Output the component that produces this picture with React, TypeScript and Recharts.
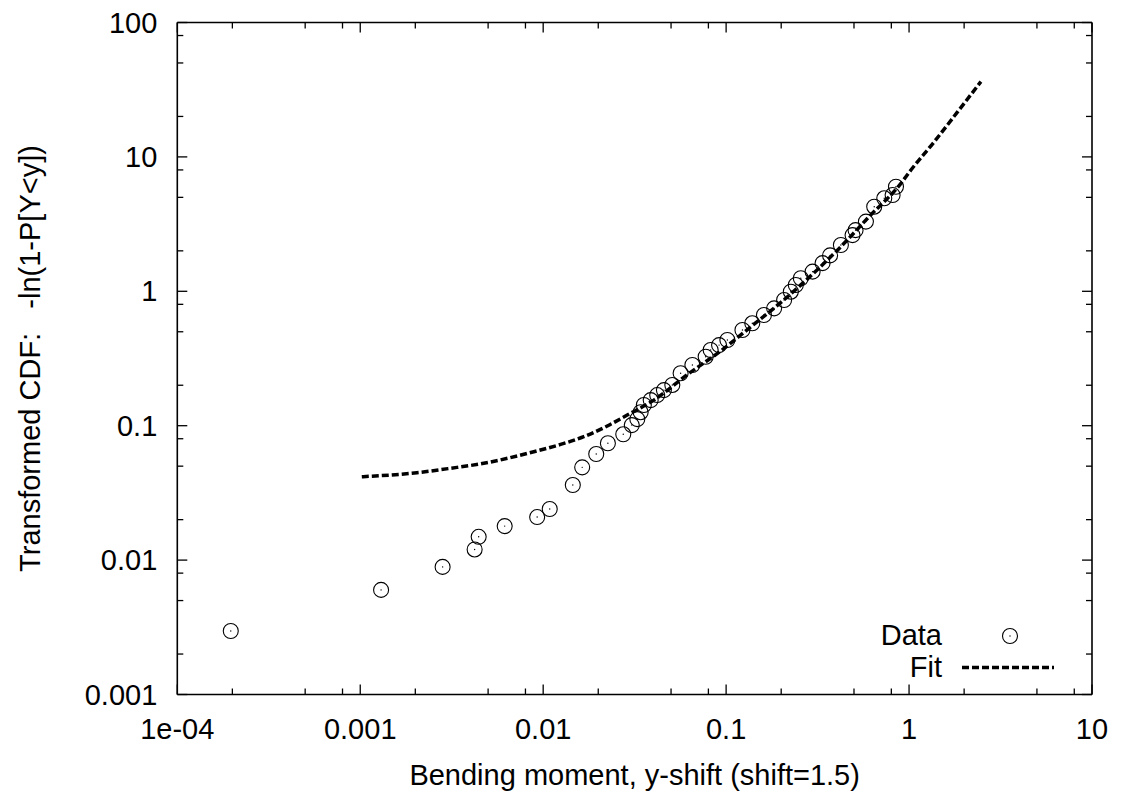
import React from 'react';
import { ComposedChart, Scatter, XAxis, YAxis } from 'recharts';

const dataX = [0.000196, 0.0013, 0.00282, 0.00422, 0.00444, 0.00616, 0.00927, 0.01086, 0.01452, 0.01634, 0.0195, 0.02258, 0.0274, 0.0305, 0.0327, 0.0341, 0.0355, 0.0387, 0.042, 0.0457, 0.0508, 0.0564, 0.0654, 0.0773, 0.0823, 0.0915, 0.1016, 0.1228, 0.139, 0.161, 0.183, 0.2075, 0.2258, 0.2404, 0.256, 0.297, 0.3366, 0.37, 0.424, 0.491, 0.51, 0.581, 0.645, 0.732, 0.813, 0.848];
const dataY = [0.00297, 0.006, 0.0089, 0.012, 0.0149, 0.0179, 0.0209, 0.024, 0.0362, 0.049, 0.0616, 0.074, 0.0863, 0.101, 0.112, 0.126, 0.1425, 0.155, 0.169, 0.184, 0.201, 0.2455, 0.283, 0.326, 0.366, 0.398, 0.434, 0.515, 0.578, 0.666, 0.747, 0.862, 0.993, 1.114, 1.25, 1.4, 1.62, 1.85, 2.21, 2.62, 2.85, 3.3, 4.26, 4.92, 5.2, 6.0];

const fitX = [0.00102, 0.00204, 0.00311, 0.00473, 0.00888, 0.01217, 0.01667, 0.0224, 0.0288, 0.0403, 0.0614, 0.0934, 0.14, 0.2, 0.3, 0.42, 0.6, 0.903, 1.024, 1.374, 1.845, 2.47];
const fitY = [0.0417, 0.0447, 0.0482, 0.0525, 0.064, 0.0719, 0.0828, 0.0995, 0.12, 0.155, 0.24, 0.36, 0.56, 0.83, 1.36, 2.12, 3.55, 6.36, 7.99, 12.97, 21.7, 36.3];

const xTicks = [1e-4, 2e-4, 5e-4, 8e-4, 1e-3, 2e-3, 5e-3, 8e-3, 1e-2, 2e-2, 5e-2, 8e-2, 0.1, 0.2, 0.5, 0.8, 1, 2, 5, 8, 10];
const yTicks = [1e-3, 2e-3, 5e-3, 8e-3, 1e-2, 2e-2, 5e-2, 8e-2, 0.1, 0.2, 0.5, 0.8, 1, 2, 5, 8, 10, 20, 50, 80, 100];
const xTickLabels: Record<string, string> = { '0.0001': '1e-04', '0.001': '0.001', '0.01': '0.01', '0.1': '0.1', '1': '1', '10': '10' };
const yTickLabels: Record<string, string> = { '0.001': '0.001', '0.01': '0.01', '0.1': '0.1', '1': '1', '10': '10', '100': '100' };

const xTitle = 'Bending moment, y-shift (shift=1.5)';
const yTitle = 'Transformed CDF:   -ln(1-P[Y<y])';
const seriesNames = ['Data', 'Fit'];

const dataPoints = dataX.map((x, i) => ({ x, y: dataY[i] }));
const fitPoints = fitX.map((x, i) => ({ x, y: fitY[i] }));

const FONT = '"Liberation Sans", Arial, Helvetica, sans-serif';
const FS = 29;

const isMajor = (v: number) => Math.abs(Math.log10(v) - Math.round(Math.log10(v))) < 1e-6;

const BottomTick = (props: any) => {
  const { x, y, payload } = props;
  const v = payload.value;
  const major = isMajor(v);
  const label = xTickLabels[String(v)];
  return (
    <g>
      <line x1={x} y1={y} x2={x} y2={y - (major ? 10 : 6)} stroke="#000" strokeWidth={1.3} />
      {major && label ? (
        <text x={x} y={y + 44} textAnchor="middle" fontFamily={FONT} fontSize={FS} fill="#000">{label}</text>
      ) : null}
    </g>
  );
};

const TopTick = (props: any) => {
  const { x, y, payload } = props;
  const major = isMajor(payload.value);
  return <line x1={x} y1={y} x2={x} y2={y + (major ? 10 : 6)} stroke="#000" strokeWidth={1.3} />;
};

const LeftTick = (props: any) => {
  const { x, y, payload } = props;
  const v = payload.value;
  const major = isMajor(v);
  const label = yTickLabels[String(v)];
  return (
    <g>
      <line x1={x} y1={y} x2={x + (major ? 10 : 6)} y2={y} stroke="#000" strokeWidth={1.3} />
      {major && label ? (
        <text x={x - 20} y={y + 10} textAnchor="end" fontFamily={FONT} fontSize={FS} fill="#000">{label}</text>
      ) : null}
    </g>
  );
};

const RightTick = (props: any) => {
  const { x, y, payload } = props;
  const major = isMajor(payload.value);
  return <line x1={x} y1={y} x2={x - (major ? 10 : 6)} y2={y} stroke="#000" strokeWidth={1.3} />;
};

const DataShape = (props: any) => {
  const { cx, cy } = props;
  if (cx == null || cy == null) return null;
  return (
    <g>
      <circle cx={cx} cy={cy} r={7.5} fill="none" stroke="#000" strokeWidth={1.1} />
      <circle cx={cx} cy={cy} r={0.7} fill="#000" />
    </g>
  );
};

const NoShape = () => null;

const XTitle = (props: any) => {
  const vb = props.viewBox || {};
  return (
    <text x={vb.x + vb.width / 2} y={vb.y + 90.5} textAnchor="middle" fontFamily={FONT} fontSize={FS} fill="#000">{xTitle}</text>
  );
};

const YTitle = (props: any) => {
  const vb = props.viewBox || {};
  const cx = 22;
  const cy = vb.y + vb.height / 2;
  return (
    <text x={cx} y={cy} transform={`rotate(-90 ${cx} ${cy})`} textAnchor="middle" dominantBaseline="central" fontFamily={FONT} fontSize={FS} fill="#000" style={{ whiteSpace: 'pre' }}>{yTitle}</text>
  );
};

const LegendBox = () => (
  <svg width={190} height={70} style={{ position: 'absolute', left: 862, top: 613, overflow: 'visible' }}>
    <text x={72} y={24} textAnchor="end" fontFamily={FONT} fontSize={FS} fill="#000">{seriesNames[0]}</text>
    <circle cx={140} cy={15} r={7.5} fill="none" stroke="#000" strokeWidth={1.1} />
    <circle cx={140} cy={15} r={0.7} fill="#000" />
    <text x={72} y={56} textAnchor="end" fontFamily={FONT} fontSize={FS} fill="#000">{seriesNames[1]}</text>
    <line x1={92} y1={46.5} x2={184} y2={46.5} stroke="#000" strokeWidth={3.5} strokeDasharray="7 3" />
  </svg>
);

export default function App() {
  return (
    <div style={{ width: 1115, height: 790, position: 'relative', background: '#fff' }}>
      <ComposedChart
        width={1115}
        height={790}
        margin={{ top: 13.5, right: 30, bottom: 102.5, left: 168.3 }}
        style={{ background: '#fff' }}
      >
        <XAxis
          xAxisId="b"
          dataKey="x"
          type="number"
          scale="log"
          domain={[1e-4, 10]}
          ticks={xTicks}
          interval={0}
          allowDataOverflow
          height={1}
          tickSize={0}
          tickMargin={0}
          tickLine={false}
          axisLine={{ stroke: '#000', strokeWidth: 1.6 }}
          tick={<BottomTick />}
          label={<XTitle />}
        />
        <XAxis
          xAxisId="t"
          orientation="top"
          dataKey="x"
          type="number"
          scale="log"
          domain={[1e-4, 10]}
          ticks={xTicks}
          interval={0}
          allowDataOverflow
          height={1}
          tickSize={0}
          tickMargin={0}
          tickLine={false}
          axisLine={{ stroke: '#000', strokeWidth: 1.6 }}
          tick={<TopTick />}
        />
        <YAxis
          yAxisId="l"
          dataKey="y"
          type="number"
          scale="log"
          domain={[1e-3, 100]}
          ticks={yTicks}
          interval={0}
          allowDataOverflow
          width={1}
          tickSize={0}
          tickMargin={0}
          tickLine={false}
          axisLine={{ stroke: '#000', strokeWidth: 1.6 }}
          tick={<LeftTick />}
          label={<YTitle />}
        />
        <YAxis
          yAxisId="r"
          orientation="right"
          dataKey="y"
          type="number"
          scale="log"
          domain={[1e-3, 100]}
          ticks={yTicks}
          interval={0}
          allowDataOverflow
          width={1}
          tickSize={0}
          tickMargin={0}
          tickLine={false}
          axisLine={{ stroke: '#000', strokeWidth: 1.6 }}
          tick={<RightTick />}
        />
        <Scatter
          name={seriesNames[1]}
          data={fitPoints}
          xAxisId="b"
          yAxisId="l"
          isAnimationActive={false}
          line={{ stroke: '#000', strokeWidth: 3.5, strokeDasharray: '7 3' }}
          lineType="joint"
          lineJointType="monotone"
          shape={<NoShape />}
        />
        <Scatter
          name={seriesNames[0]}
          data={dataPoints}
          xAxisId="b"
          yAxisId="l"
          isAnimationActive={false}
          shape={<DataShape />}
        />
      </ComposedChart>
      <LegendBox />
    </div>
  );
}
